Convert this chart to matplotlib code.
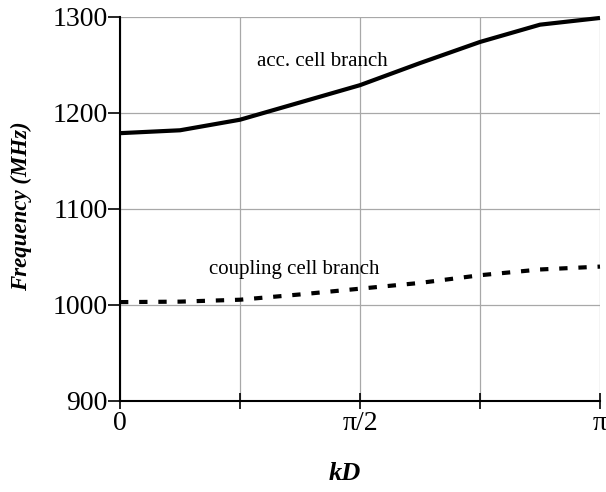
import numpy as np
import matplotlib
matplotlib.use("Agg")
import matplotlib.pyplot as plt

# data
kd = np.pi * np.array([0, 1, 2, 3, 4, 5, 6, 7, 8]) / 8
acc_branch = [1179, 1182, 1193, 1211, 1229, 1252, 1274, 1292, 1299]
coup_branch = [1003, 1003.5, 1005.5, 1011, 1017, 1023, 1031, 1037, 1040]
xtick_vals = np.pi * np.array([0, 0.25, 0.5, 0.75, 1.0])
xtick_labels = ["0", "", "π/2", "", "π"]
ytick_vals = [900, 1000, 1100, 1200, 1300]

plt.rcParams['font.family'] = ['Liberation Serif', 'DejaVu Serif']

fig = plt.figure(figsize=(6.06, 4.92), dpi=100)
ax = fig.add_axes([120/606, 1-401/492, 480/606, 384/492])

ax.plot(kd, acc_branch, color='black', lw=3.0, solid_capstyle='butt', clip_on=False, zorder=3)
ax.plot(kd, coup_branch, color='black', lw=3.0, dashes=(2.0, 2.6), clip_on=False, zorder=3)

ax.set_xlim(0, np.pi)
ax.set_ylim(900, 1300)
ax.set_xticks(xtick_vals)
ax.set_xticklabels(xtick_labels)
ax.set_yticks(ytick_vals)
ax.tick_params(axis='x', direction='inout', length=12, width=1.2, labelsize=20, pad=1)
ax.tick_params(axis='y', direction='out', length=9, width=1.2, labelsize=20, pad=0)

for s in ['top', 'right']:
    ax.spines[s].set_visible(False)
for s in ['left', 'bottom']:
    ax.spines[s].set_linewidth(1.5)
ax.grid(True, color='#a8a8a8', lw=0.9)
ax.set_axisbelow(True)

ax.text(0.897, 1254, "acc. cell branch", fontsize=15, va='center', ha='left')
ax.text(0.583, 1036.5, "coupling cell branch", fontsize=15, va='center', ha='left')

fig.text(345/606, 1-474/492, "kD", fontsize=19, fontweight='bold', fontstyle='italic', ha='center', va='center')
fig.text(21/606, 1-(206/492), "Frequency (MHz)", fontsize=16.5, fontweight='bold', fontstyle='italic',
         rotation=90, ha='center', va='center')

fig.savefig("out.png", dpi=100)
